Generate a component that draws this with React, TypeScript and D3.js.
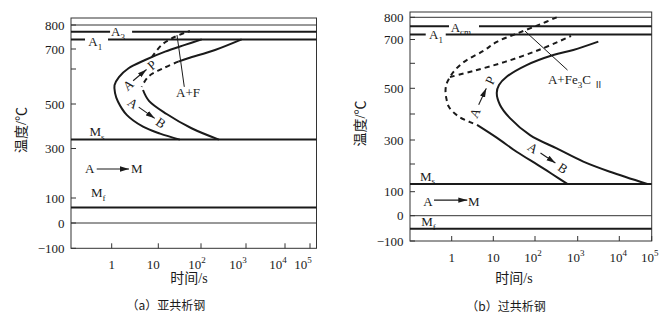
import React from "react";
import * as d3 from "d3";

// ---------- shared axis data ----------
const xTickValues = [1, 10, 100, 1000, 10000, 100000];
const xTickBase = ["1", "10", "10", "10", "10", "10"];
const xTickExp = ["", "", "2", "3", "4", "5"];

// ---------- (a) hypoeutectoid ----------
const yTicksA = [-100, 0, 100, 300, 500, 600, 700, 800];
const yTickLabelsA = ["−100", "0", "100", "300", "500", "", "700", "800"];
const levelsA = { top: 800, A3: 772, A1: 740, Ms: 340, Mf: 62, zero: 0 };

const outerA_t = [104, 42, 14.4, 5.2, 2.3, 1.43, 1.15, 1.18, 1.36, 2.1, 4.7, 11, 32];
const outerA_T = [740, 717, 687, 645, 604, 577, 554, 531, 507, 451, 398, 367, 340];
const innerTopA_t = [800, 205, 50, 29.4];
const innerTopA_T = [740, 695, 654, 637];
const innerDashA_t = [29.4, 13.1, 6.1, 4.4];
const innerDashA_T = [637, 604, 578, 549];
const innerLowA_t = [4.7, 6.3, 15.7, 60, 250];
const innerLowA_T = [540, 509, 455, 391, 340];
const ferriteA_t = [7.3, 12, 24.6, 55];
const ferriteA_T = [660, 717, 751, 775];
const leaderA_t = [27.4, 40.6];
const leaderA_T = [758, 549];

// ---------- (b) hypereutectoid ----------
const yTicksB = [-100, 0, 100, 200, 300, 400, 500, 600, 700, 800];
const yTickLabelsB = ["−100", "0", "100", "", "300", "", "500", "", "700", "800"];
const levelsB = { top: 800, Acm: 760, A1: 723, Ms: 128, Mf: -52, zero: 0 };

const outerDashB_t = [322, 131, 37, 12.1, 6.0, 1.98, 1.14, 0.91, 0.75, 0.71, 0.75, 0.86, 1.42, 2.75, 4.06];
const outerDashB_T = [800, 768, 727, 690, 654, 606, 569, 545, 517, 490, 458, 427, 392, 369, 358];
const outerSolidB_t = [4.06, 12.3, 37, 118, 250, 570];
const outerSolidB_T = [358, 308, 250, 196, 164, 128];
const pStartB_t = [0.91, 3.25, 19.1, 131, 697];
const pStartB_T = [545, 569, 606, 658, 716];
const innerB_t = [3130, 789, 268, 63, 20.9, 13.7, 12.1, 14.5, 25.1, 76, 322, 1365, 5970, 73100];
const innerB_T = [691, 656, 635, 593, 546, 513, 482, 435, 384, 319, 265, 210, 172, 128];
const leaderB_t = [57.5, 577];
const leaderB_T = [738, 573];

const zip = (t: number[], T: number[]) => t.map((v, i) => [v, T[i]] as [number, number]);

const SERIF = "'Liberation Serif', 'Times New Roman', 'Noto Sans CJK SC', serif";
const INK = "#1a1a1a";

type Part = { s: string; sub?: boolean; sup?: boolean };

function Rich({ parts, x, y, size = 13, anchor = "start" }: { parts: Part[]; x: number; y: number; size?: number; anchor?: string }) {
  let shift = 0;
  return (
    <text x={x} y={y} textAnchor={anchor as any} fill={INK} style={{ fontFamily: SERIF, fontSize: size }}>
      {parts.map((p, i) => {
        const target = p.sub ? 3.5 : p.sup ? -6 : 0;
        const dy = target - shift;
        shift = target;
        return (
          <tspan key={i} dy={dy} style={{ fontSize: p.sub || p.sup ? 9 : size }}>
            {p.s}
          </tspan>
        );
      })}
    </text>
  );
}

type LevelLabel = { parts: Part[]; t: number; T: number; halo?: { level: number; dx: number; w: number } };
type ArrowLbl = { from: string; to: string; t: number; T: number; angle: number; d: number; a1: number; a2: number };
type Curve = { t: number[]; T: number[]; dashed?: boolean };

type PanelCfg = {
  x: d3.ScaleLogarithmic<number, number>;
  y: d3.ScaleLinear<number, number>;
  frame: { left: number; right: number; top: number; bottom: number };
  yTicks: number[];
  yTickLabels: string[];
  xLabelShift: number[];
  thickLevels: number[];
  thinLevels: number[];
  curves: Curve[];
  leader: { t: number[]; T: number[] };
  levelLabels: LevelLabel[];
  am: { tA: number; tM: number; T: number; t1: number; t2: number; Tarrow: number };
  arrows: ArrowLbl[];
  region: { parts: Part[]; t: number; T: number; anchor: string };
  xTitleX: number;
  yTitleY: number;
  caption: string;
  captionX: number;
  captionY: number;
};

function Panel({ c, id }: { c: PanelCfg; id: string }) {
  const { x, y, frame } = c;
  const line = d3
    .line<[number, number]>()
    .x((d) => x(d[0]))
    .y((d) => y(d[1]))
    .curve(d3.curveCatmullRom.alpha(0.5));
  const marker = `url(#arrow-${id})`;
  const txt = { fontFamily: SERIF, fontSize: 13 };
  return (
    <g>
      <rect x={frame.left} y={frame.top} width={frame.right - frame.left} height={frame.bottom - frame.top} fill="none" stroke="#333" strokeWidth={1} />
      {c.thinLevels.map((v, i) => (
        <line key={"thin" + i} x1={frame.left} x2={frame.right} y1={y(v)} y2={y(v)} stroke="#333" strokeWidth={1} />
      ))}
      {c.thickLevels.map((v, i) => (
        <line key={"thick" + i} x1={frame.left} x2={frame.right} y1={y(v)} y2={y(v)} stroke={INK} strokeWidth={2} />
      ))}
      {c.yTicks.map((v, i) => (
        <g key={"yt" + i}>
          <line x1={frame.left} x2={frame.left + 5} y1={y(v)} y2={y(v)} stroke="#333" strokeWidth={1} />
          {c.yTickLabels[i] && (
            <text x={frame.left - 6.5} y={y(v)} dy="0.35em" textAnchor="end" fill={INK} style={txt}>
              {c.yTickLabels[i]}
            </text>
          )}
        </g>
      ))}
      {xTickValues.map((v, i) => (
        <g key={"xt" + i}>
          <line x1={x(v)} x2={x(v)} y1={frame.bottom} y2={frame.bottom - 5} stroke="#333" strokeWidth={1} />
          <Rich
            x={x(v) + c.xLabelShift[i]}
            y={frame.bottom + 20.5}
            anchor="middle"
            parts={xTickExp[i] ? [{ s: xTickBase[i] }, { s: xTickExp[i], sup: true }] : [{ s: xTickBase[i] }]}
          />
        </g>
      ))}
      {c.curves.map((cv, i) => (
        <path
          key={"cv" + i}
          d={line(zip(cv.t, cv.T)) || ""}
          fill="none"
          stroke={INK}
          strokeWidth={2}
          strokeDasharray={cv.dashed ? "5,4" : undefined}
        />
      ))}
      <path d={d3.line<[number, number]>().x((d) => x(d[0])).y((d) => y(d[1]))(zip(c.leader.t, c.leader.T)) || ""} stroke={INK} strokeWidth={1} fill="none" />
      {c.levelLabels.map((l, i) => (
        <g key={"ll" + i}>
          {l.halo && <rect x={x(l.t) + l.halo.dx} y={y(l.halo.level) - 2.5} width={l.halo.w} height={5} fill="#fff" />}
          <Rich x={x(l.t)} y={y(l.T)} parts={l.parts} />
        </g>
      ))}
      <Rich x={x(c.am.tA)} y={y(c.am.T)} parts={[{ s: "A" }]} />
      <line x1={x(c.am.t1)} x2={x(c.am.t2)} y1={y(c.am.Tarrow)} y2={y(c.am.Tarrow)} stroke={INK} strokeWidth={1.1} markerEnd={marker} />
      <Rich x={x(c.am.tM)} y={y(c.am.T)} parts={[{ s: "M" }]} />
      {c.arrows.map((a, i) => (
        <g key={"ar" + i} transform={`translate(${x(a.t)},${y(a.T)}) rotate(${a.angle})`}>
          <text x={-a.d} y={0} dy="0.35em" textAnchor="middle" fill={INK} style={txt}>
            {a.from}
          </text>
          <line x1={a.a1} x2={a.a2} y1={0} y2={0} stroke={INK} strokeWidth={1.1} markerEnd={marker} />
          <text x={a.d} y={0} dy="0.35em" textAnchor="middle" fill={INK} style={txt}>
            {a.to}
          </text>
        </g>
      ))}
      <Rich x={x(c.region.t)} y={y(c.region.T)} parts={c.region.parts} anchor={c.region.anchor} />
      <text x={c.xTitleX} y={283} textAnchor="middle" fill={INK} style={{ fontFamily: SERIF, fontSize: 14 }}>
        时间/s
      </text>
      <text
        transform={`translate(${frame.left - 49.3},${c.yTitleY}) rotate(-90)`}
        textAnchor="middle"
        dominantBaseline="central"
        fill={INK}
        style={{ fontFamily: SERIF, fontSize: 14 }}
      >
        温度/℃
      </text>
      <text x={c.captionX} y={c.captionY} textAnchor="middle" fill={INK} style={{ fontFamily: "'Noto Sans CJK SC', sans-serif", fontSize: 12 }}>
        {c.caption}
      </text>
    </g>
  );
}

export default function App() {
  const xA = d3.scaleLog().domain(xTickValues).range([111.7, 158.3, 201, 246, 285, 310]);
  const yA = d3.scaleLinear().domain(yTicksA).range([248.3, 223, 198, 148.5, 104, 69, 49, 25]);
  const xB = d3.scaleLog().domain(xTickValues).range([451.7, 493.3, 535, 577.7, 619.3, 651.7]);
  const yB = d3.scaleLinear().domain(yTicksB).range([241, 215.7, 191.7, 164, 140, 114, 88.3, 63.3, 39.5, 17.3]);

  const cfgA: PanelCfg = {
    x: xA,
    y: yA,
    frame: { left: 71, right: 316.5, top: 18, bottom: 248.3 },
    yTicks: yTicksA,
    yTickLabels: yTickLabelsA,
    xLabelShift: [0, -5, -4, -8, -7, -7],
    thickLevels: [levelsA.A3, levelsA.A1, levelsA.Ms, levelsA.Mf],
    thinLevels: [levelsA.top, levelsA.zero],
    curves: [
      { t: outerA_t, T: outerA_T },
      { t: innerTopA_t, T: innerTopA_T },
      { t: innerDashA_t, T: innerDashA_T, dashed: true },
      { t: innerLowA_t, T: innerLowA_T },
      { t: ferriteA_t, T: ferriteA_T, dashed: true },
    ],
    leader: { t: leaderA_t, T: leaderA_T },
    levelLabels: [
      { parts: [{ s: "A" }, { s: "3", sub: true }], t: 0.97, T: 754, halo: { level: levelsA.A3, dx: -1, w: 22 } },
      { parts: [{ s: "A" }, { s: "1", sub: true }], t: 0.315, T: 712, halo: { level: levelsA.A1, dx: -3.3, w: 23 } },
      { parts: [{ s: "M" }, { s: "s", sub: true }], t: 0.334, T: 356 },
      { parts: [{ s: "M" }, { s: "f", sub: true }], t: 0.36, T: 104 },
    ],
    am: { tA: 0.267, tM: 2.6, T: 199, t1: 0.477, t2: 2.35, Tarrow: 217 },
    arrows: [
      { from: "A", to: "P", t: 4.05, T: 583, angle: -40, d: 15.5, a1: -9, a2: 8.5 },
      { from: "A", to: "B", t: 5.7, T: 460, angle: 35, d: 17, a1: -10, a2: 9.5 },
    ],
    region: { parts: [{ s: "A+F" }], t: 49.7, T: 520, anchor: "middle" },
    xTitleX: 189,
    yTitleY: 130,
    caption: "（a）亚共析钢",
    captionX: 166,
    captionY: 309.5,
  };

  const cfgB: PanelCfg = {
    x: xB,
    y: yB,
    frame: { left: 410, right: 651.7, top: 12, bottom: 241 },
    yTicks: yTicksB,
    yTickLabels: yTickLabelsB,
    xLabelShift: [0, 0, -2, -2, -1, -2],
    thickLevels: [levelsB.Acm, levelsB.A1, levelsB.Ms, levelsB.Mf],
    thinLevels: [levelsB.top, levelsB.zero],
    curves: [
      { t: outerDashB_t, T: outerDashB_T, dashed: true },
      { t: outerSolidB_t, T: outerSolidB_T },
      { t: pStartB_t, T: pStartB_T, dashed: true },
      { t: innerB_t, T: innerB_T },
    ],
    leader: { t: leaderB_t, T: leaderB_T },
    levelLabels: [
      { parts: [{ s: "A" }, { s: "cm", sub: true }], t: 0.946, T: 736, halo: { level: levelsB.Acm, dx: -1.7, w: 30 } },
      { parts: [{ s: "A" }, { s: "1", sub: true }], t: 0.285, T: 702, halo: { level: levelsB.A1, dx: -3.3, w: 20 } },
      { parts: [{ s: "M" }, { s: "s", sub: true }], t: 0.173, T: 140 },
      { parts: [{ s: "M" }, { s: "f", sub: true }], t: 0.186, T: -41 },
    ],
    am: { tA: 0.208, tM: 2.46, T: 42, t1: 0.376, t2: 2.37, Tarrow: 65 },
    arrows: [
      { from: "A", to: "P", t: 5.5, T: 468, angle: -65, d: 18, a1: -9, a2: 9 },
      { from: "A", to: "B", t: 201, T: 225, angle: 34, d: 18, a1: -9, a2: 9 },
    ],
    region: {
      parts: [{ s: "A+Fe" }, { s: "3", sub: true }, { s: "C " }, { s: "Ⅱ", sub: true }],
      t: 201,
      T: 517,
      anchor: "start",
    },
    xTitleX: 514,
    yTitleY: 123.5,
    caption: "（b）过共析钢",
    captionX: 506,
    captionY: 311,
  };

  return (
    <svg width={664} height={317} style={{ position: "absolute", left: 0, top: 0, background: "#fff" }}>
      <defs>
        {["a", "b"].map((id) => (
          <marker key={id} id={`arrow-${id}`} viewBox="0 0 10 6" refX={10} refY={3} markerWidth={9} markerHeight={6} markerUnits="userSpaceOnUse" orient="auto">
            <path d="M0,0 L10,3 L0,6 Z" fill={INK} />
          </marker>
        ))}
      </defs>
      <rect x={0} y={0} width={664} height={317} fill="#fff" />
      <Panel c={cfgA} id="a" />
      <Panel c={cfgB} id="b" />
    </svg>
  );
}
